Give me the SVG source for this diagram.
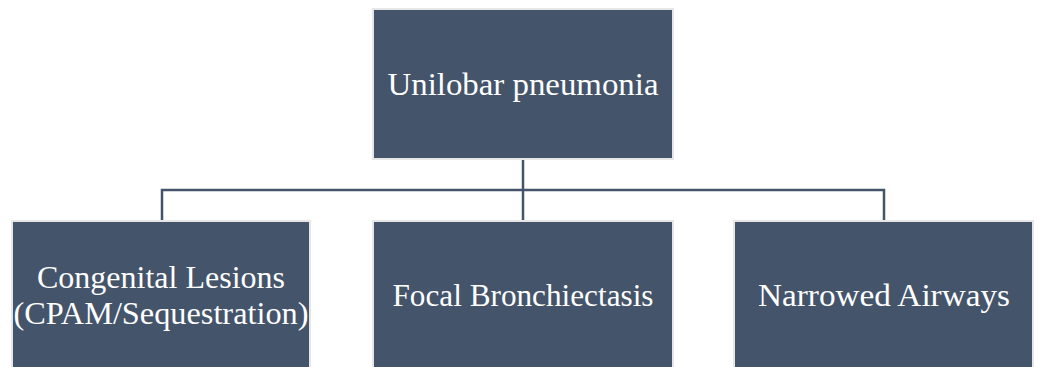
<svg xmlns="http://www.w3.org/2000/svg" width="1040" height="367" viewBox="0 0 1040 367">
<style>
.box{fill:#44546a;stroke:#e6e6e6;stroke-width:2}
.lbl{font-family:"Liberation Serif","DejaVu Serif",serif;font-size:31px;fill:#ffffff;text-anchor:middle}
.conn{fill:none;stroke:#44546a;stroke-width:2.5}
</style>
<rect width="1040" height="367" fill="#ffffff"/>
<g id="connectors">
<path class="conn" d="M523 160 V221"/>
<path class="conn" d="M162 221 V190 H884 V221"/>
</g>
<g id="node-top">
<rect class="box" x="373" y="9" width="300" height="150"/>
<text class="lbl" x="523" y="95" textLength="271" lengthAdjust="spacingAndGlyphs">Unilobar pneumonia</text>
</g>
<g id="node-congenital">
<rect class="box" x="12" y="221" width="298" height="160"/>
<text class="lbl" x="161" y="288" textLength="248" lengthAdjust="spacingAndGlyphs">Congenital Lesions</text>
<text class="lbl" x="161" y="324" textLength="295" lengthAdjust="spacingAndGlyphs">(CPAM/Sequestration)</text>
</g>
<g id="node-focal">
<rect class="box" x="373" y="221" width="300" height="160"/>
<text class="lbl" x="523" y="306" textLength="261" lengthAdjust="spacingAndGlyphs">Focal Bronchiectasis</text>
</g>
<g id="node-narrowed">
<rect class="box" x="734" y="221" width="299" height="160"/>
<text class="lbl" x="884" y="306" textLength="252" lengthAdjust="spacingAndGlyphs">Narrowed Airways</text>
</g>
</svg>
